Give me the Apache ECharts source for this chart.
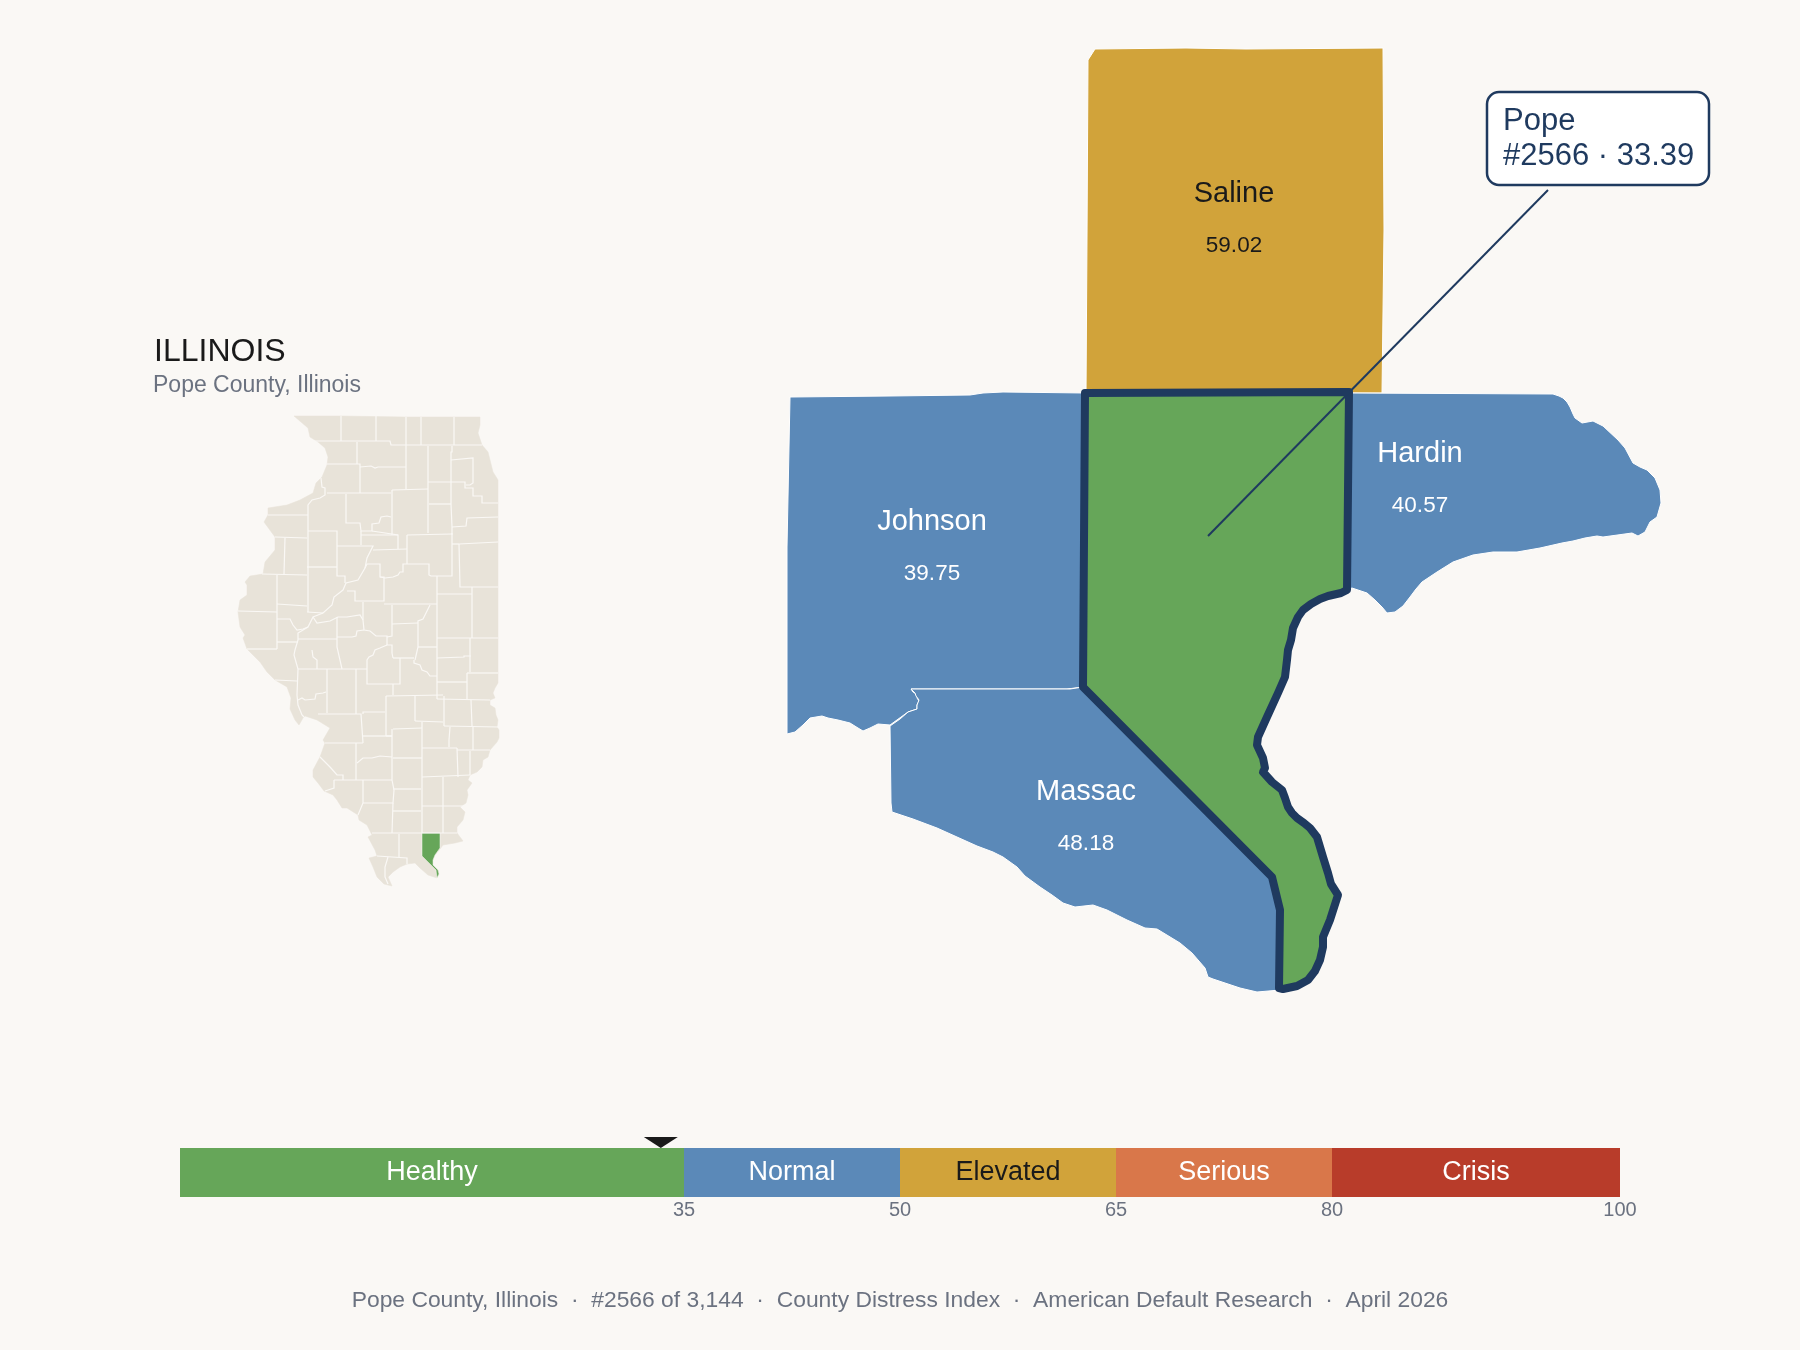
<!DOCTYPE html>
<html>

<head>
    <meta charset="utf-8" />
    <title>Pope County, Illinois</title>
    <script src="https://cdn.jsdelivr.net/npm/echarts@6/dist/echarts.min.js"></script>
    <style>
        html, body { margin: 0; padding: 0; background: #faf8f5; }
    </style>
</head>

<body>
    <div id="main" style="width: 1800px;height: 1350px;"></div>
    <script type="text/javascript">
        // distress index bands
        var bandNames = ['Healthy', 'Normal', 'Elevated', 'Serious', 'Crisis'];
        var bandSizes = [35, 15, 15, 15, 20];
        var bandTicks = [35, 50, 65, 80, 100];
        var bandColors = ['#66a659', '#5b89b8', '#d1a33a', '#d9774a', '#b83c2a'];
        var bandTextColors = ['#ffffff', '#ffffff', '#1a1a1a', '#ffffff', '#ffffff'];

        // the county and its neighbours
        var neighbourNames = ['Saline', 'Johnson', 'Hardin', 'Massac'];
        var neighbourScores = [59.02, 39.75, 40.57, 48.18];
        var focusName = 'Pope';
        var focusScore = 33.39;
        var focusRank = 2566;

        // outlines, [x, y] with y growing southward
        var salineOutline = [[1095,49],[1186,48],[1246,49],[1383,48],[1384,230],[1382,393],[1086,393],[1087,237],[1088,60]];
        var johnsonOutline = [[790,397],[890,396],[970,395],[983,393],[1003,392],[1085,393],[1083,687],[1067,689],[911,689],[913,692],[918,695],[917,698],[919,701],[917,705],[917,709],[908,712],[890,725],[878,724],[870,728],[863,731],[858,728],[850,723],[838,720],[828,718],[822,716],[810,718],[806,722],[803,725],[795,732],[787,734],[787,547]];
        var hardinOutline = [[1349,393],[1553,394],[1559,396],[1563,398],[1567,402],[1570,407],[1573,414],[1575,418],[1582,423],[1593,421],[1603,426],[1618,440],[1625,448],[1633,463],[1640,467],[1647,470],[1655,478],[1660,490],[1661,503],[1657,517],[1650,522],[1645,532],[1638,536],[1632,533],[1603,537],[1597,536],[1585,538],[1573,541],[1562,543],[1540,548],[1517,552],[1493,552],[1473,555],[1453,562],[1437,572],[1422,582],[1416,589],[1410,597],[1403,606],[1395,612],[1387,613],[1382,607],[1375,600],[1367,593],[1352,588],[1347,590]];
        var massacOutline = [[911,689],[1070,689],[1083,687],[1272,877],[1280,910],[1280,990],[1257,992],[1240,988],[1213,979],[1208,977],[1205,968],[1192,953],[1180,943],[1157,929],[1145,928],[1127,920],[1107,910],[1093,905],[1075,907],[1063,903],[1052,895],[1040,887],[1025,876],[1017,867],[1003,857],[993,852],[977,846],[957,837],[937,828],[913,819],[892,812],[891,803],[890,726],[900,719],[908,712],[917,709],[917,705],[919,700],[916,696],[915,693]];
        var popeOutline = [[1085,393],[1349,392],[1347,590],[1341,593],[1328,596],[1320,599],[1311,604],[1303,610],[1298,617],[1293,628],[1291,640],[1288,650],[1287,660],[1285,677],[1278,693],[1267,717],[1258,737],[1257,745],[1263,758],[1265,768],[1263,772],[1272,782],[1282,790],[1285,798],[1288,807],[1292,813],[1297,818],[1304,823],[1310,828],[1317,837],[1323,857],[1328,873],[1331,884],[1338,895],[1330,920],[1323,937],[1323,947],[1320,960],[1315,971],[1308,980],[1297,986],[1283,989],[1279,988],[1280,910],[1272,877],[1083,687]];

        // label anchors inside each neighbour
        var neighbourLabelAt = [[1234,220],[932,548],[1420,480],[1086,818]];

        // state outline and county borders for the inset
        var stateOutline = [[294,416],[341,416],[406,417],[480,417],[480,425],[478,433],[482,445],[488,452],[493,472],[498,480],[498,683],[495,688],[493,693],[495,698],[490,700],[490,705],[495,708],[496,715],[498,720],[497,727],[499,730],[499,738],[497,742],[490,750],[488,757],[483,760],[482,767],[477,772],[470,775],[468,780],[472,783],[467,790],[468,795],[466,803],[460,807],[465,812],[463,820],[457,827],[457,833],[463,841],[455,843],[443,845],[440,849],[435,855],[433,860],[433,865],[438,870],[439,874],[437,878],[428,875],[420,868],[415,863],[407,864],[400,867],[393,872],[388,877],[392,886],[384,884],[377,877],[373,867],[369,858],[377,856],[375,850],[368,837],[372,835],[367,825],[359,820],[358,815],[347,808],[342,808],[337,800],[333,795],[324,791],[318,783],[313,777],[313,770],[320,757],[325,743],[323,740],[330,728],[317,720],[305,716],[303,718],[299,725],[295,720],[290,709],[291,698],[287,687],[275,680],[267,672],[260,662],[247,649],[243,638],[245,635],[240,627],[238,612],[240,600],[247,595],[247,585],[245,582],[250,576],[263,574],[265,562],[275,550],[275,537],[264,522],[268,515],[268,508],[287,505],[300,500],[313,493],[316,483],[322,477],[327,465],[328,457],[325,448],[318,442],[310,437],[308,428]];
        var insetFocusOutline = [[422,833],[440,833],[440,848],[435,855],[433,860],[433,865],[438,870],[439,874],[437,878],[436,878],[436,870],[422,856]];
        var countyBorders = [
            [[341,416],[341,441]], [[376,416],[376,441]], [[406,417],[406,445]], [[421,417],[421,445]], [[454,417],[454,445]],
            [[313,441],[390,441],[391,445],[482,445]],
            [[357,442],[357,464]], [[327,464],[360,464],[360,493]],
            [[360,467],[371,466],[373,467],[375,468],[378,467],[406,467]],
            [[406,445],[406,489]], [[428,446],[428,533]],
            [[452,446],[452,452],[451,452],[451,504],[452,527],[452,535]],
            [[428,482],[465,482],[465,488],[473,488],[473,496],[482,496],[482,503],[498,503]],
            [[451,460],[473,458],[473,483],[470,485],[466,485]],
            [[429,504],[451,504]],
            [[452,527],[466,526],[467,518],[498,517]],
            [[327,493],[391,493]], [[392,490],[392,535]], [[392,490],[428,489]],
            [[321,478],[322,487],[325,488],[325,495],[320,498],[312,500],[308,505],[308,612]],
            [[268,515],[308,515]],
            [[346,494],[346,523],[360,523],[361,531],[372,531],[372,524],[379,523],[381,517],[387,516],[391,517]],
            [[308,531],[337,531],[337,576],[345,576],[345,583]],
            [[361,531],[361,545]], [[372,531],[398,535],[398,549]],
            [[337,546],[373,546],[367,558],[365,568],[358,580],[346,583],[343,590],[334,597],[332,605],[323,613],[313,617],[308,627],[298,633],[298,640],[295,650],[294,655],[298,669],[297,695],[298,705],[302,715],[304,717]],
            [[275,537],[307,538]], [[285,538],[284,574]], [[307,567],[337,567]], [[262,574],[307,575]],
            [[277,575],[277,649]], [[277,604],[307,606]], [[238,611],[277,612]],
            [[277,619],[290,619],[293,625],[297,630],[303,629],[308,627]],
            [[277,642],[298,642]], [[247,649],[277,649]], [[307,612],[323,613]],
            [[347,591],[355,591],[355,601],[384,601],[384,577],[380,577],[380,564],[367,564],[365,568]],
            [[380,577],[385,578],[393,577],[398,575],[400,572],[403,572],[403,564],[429,564],[429,575],[431,576],[452,576],[452,533]],
            [[407,535],[452,534]], [[407,535],[407,564]], [[407,549],[373,550]],
            [[361,535],[398,535]],
            [[437,576],[437,699]], [[437,594],[472,594]], [[459,544],[460,587],[498,587]], [[459,544],[498,542]], [[452,544],[459,544]],
            [[472,587],[472,638]],
            [[384,604],[437,604]], [[363,602],[363,620],[364,630],[370,631],[376,636],[387,636],[387,645],[392,645],[392,653],[393,658]],
            [[392,605],[392,636],[387,637]], [[392,624],[418,623]], [[430,605],[423,619],[418,621],[418,647],[415,660]],
            [[313,617],[317,623],[330,621],[338,617],[347,617],[360,615],[363,620]],
            [[337,617],[337,647],[342,669]], [[298,639],[337,639]], [[337,637],[352,637],[356,636],[357,631],[364,630]],
            [[437,638],[498,638]], [[418,647],[437,647]], [[470,638],[470,672]], [[437,658],[464,657],[464,656],[471,656]],
            [[387,645],[380,648],[375,650],[373,655],[369,657],[367,660],[367,684],[400,684],[400,658]],
            [[312,650],[313,657],[317,660],[317,669]], [[298,669],[367,669]],
            [[327,669],[327,713]], [[356,669],[356,714]],
            [[275,680],[297,681]],
            [[298,700],[302,698],[305,700],[315,699],[316,694],[323,693],[326,692]],
            [[318,714],[361,714],[363,743]], [[325,743],[363,743]],
            [[363,714],[363,712],[385,712]], [[386,696],[386,736]], [[363,736],[392,736]],
            [[393,684],[393,695]], [[386,696],[443,695]], [[393,658],[414,658]],
            [[414,660],[414,663],[420,665],[422,670],[427,672],[430,676],[437,676]],
            [[437,682],[467,682]], [[437,699],[490,700]], [[467,673],[498,673]], [[467,673],[467,699]],
            [[415,696],[415,721]], [[415,721],[443,722]], [[444,696],[444,726]], [[444,726],[499,727]], [[471,700],[472,726]],
            [[422,722],[422,833]], [[393,729],[422,728]], [[392,729],[392,780]], [[386,736],[392,736]],
            [[422,748],[457,748]], [[457,748],[458,777]], [[450,727],[449,740],[449,747]], [[473,727],[473,750]], [[457,750],[490,750]], [[470,751],[470,775]],
            [[393,758],[422,758]],
            [[356,743],[356,780]], [[357,763],[363,758],[372,758],[380,756],[392,757]],
            [[320,757],[330,767],[337,775],[343,775],[343,780]],
            [[334,780],[334,788],[325,791]], [[334,780],[392,780]], [[363,780],[363,803],[358,815]],
            [[363,803],[393,803],[394,790],[392,780]], [[393,789],[421,789]], [[393,803],[392,833]], [[393,811],[421,811]],
            [[422,777],[470,775]], [[443,777],[443,833]], [[422,806],[466,806]],
            [[372,833],[457,833]], [[399,834],[399,857]], [[377,856],[407,858],[407,864]], [[388,857],[385,867],[385,877],[388,884]]
        ];

        // callout leader: centre of the county to the foot of the box
        var leaderFrom = [1208, 536];
        var leaderTo = [1548, 190];

        var bg = '#faf8f5';
        var navy = '#1f3a5f';
        var grey = '#6b7280';
        var ink = '#1a1a1a';
        var fontName = '"Liberation Sans", Arial, sans-serif';

        function toGeo(pt) {
            return [pt[0], -pt[1]];
        }

        function feature(name, ring, cp) {
            var coords = ring.map(toGeo);
            coords.push(coords[0]);
            return {
                type: 'Feature',
                properties: cp ? { name: name, cp: toGeo(cp) } : { name: name },
                geometry: { type: 'Polygon', coordinates: [coords] }
            };
        }

        function bandIndex(score) {
            for (var i = 0; i < bandTicks.length; i++) {
                if (score < bandTicks[i]) return i;
            }
            return bandTicks.length - 1;
        }

        var neighbourOutlines = [salineOutline, johnsonOutline, hardinOutline, massacOutline];

        echarts.registerMap('area', {
            type: 'FeatureCollection',
            features: neighbourNames.map(function (name, i) {
                return feature(name, neighbourOutlines[i], neighbourLabelAt[i]);
            }).concat([feature(focusName, popeOutline)])
        });
        echarts.registerMap('state', {
            type: 'FeatureCollection',
            features: [feature('Illinois', stateOutline), feature(focusName, insetFocusOutline)]
        });

        var myChart = echarts.init(document.getElementById('main'), null, { renderer: 'canvas' });

        var areaRegions = neighbourNames.map(function (name, i) {
            var idx = bandIndex(neighbourScores[i]);
            return {
                name: name,
                itemStyle: { areaColor: bandColors[idx], borderColor: '#ffffff', borderWidth: 1 },
                label: {
                    show: true,
                    formatter: '{n|' + name + '}\n{v|' + neighbourScores[i].toFixed(2) + '}',
                    rich: {
                        n: { fontSize: 29, lineHeight: 52, color: bandTextColors[idx], fontFamily: fontName },
                        v: { fontSize: 22.5, lineHeight: 52, color: bandTextColors[idx], fontFamily: fontName }
                    }
                }
            };
        });
        areaRegions.push({
            name: focusName,
            itemStyle: { areaColor: bandColors[bandIndex(focusScore)], borderColor: navy, borderWidth: 8, borderJoin: 'round' },
            label: { show: false }
        });

        var barSeries = bandNames.map(function (name, i) {
            return {
                type: 'bar',
                name: name,
                stack: 'scale',
                data: [bandSizes[i]],
                barWidth: '100%',
                silent: true,
                itemStyle: { color: bandColors[i] },
                label: {
                    show: true,
                    position: 'inside',
                    formatter: name,
                    fontSize: 27,
                    fontFamily: fontName,
                    color: bandTextColors[i]
                }
            };
        });

        var option = {
            animation: false,
            backgroundColor: bg,
            title: [
                { text: 'ILLINOIS', left: 154, top: 336, padding: 0, textStyle: { fontSize: 32, fontWeight: 'normal', color: ink, fontFamily: fontName } },
                { text: 'Pope County, Illinois', left: 153, top: 374, padding: 0, textStyle: { fontSize: 23, fontWeight: 'normal', color: grey, fontFamily: fontName } },
                {
                    text: 'Pope County, Illinois  \u00b7  #2566 of 3,144  \u00b7  County Distress Index  \u00b7  American Default Research  \u00b7  April 2026',
                    left: 'center', top: 1289, padding: 0,
                    textStyle: { fontSize: 22.85, fontWeight: 'normal', color: grey, fontFamily: fontName }
                }
            ],
            geo: [
                {
                    map: 'area', roam: false, silent: true, aspectScale: 1,
                    boundingCoords: [[780, -40], [1670, -1000]],
                    left: 780, top: 40, width: 890, height: 960,
                    regions: areaRegions
                },
                {
                    map: 'state', roam: false, silent: true, aspectScale: 1,
                    boundingCoords: [[230, -410], [510, -890]],
                    left: 230, top: 410, width: 280, height: 480,
                    itemStyle: { areaColor: '#e8e3d9', borderColor: '#e8e3d9', borderWidth: 0.5 },
                    regions: [{ name: focusName, itemStyle: { areaColor: bandColors[bandIndex(focusScore)], borderColor: bg, borderWidth: 0.5 } }]
                }
            ],
            grid: { left: 180, top: 1148, width: 1440, height: 49, containLabel: false },
            xAxis: {
                type: 'value', min: 0, max: 100,
                axisLine: { show: false }, axisTick: { show: false }, splitLine: { show: false },
                axisLabel: { customValues: bandTicks, margin: 3, fontSize: 20, color: grey, fontFamily: fontName, showMinLabel: true, showMaxLabel: true, hideOverlap: false }
            },
            yAxis: { type: 'category', data: ['score'], show: false },
            series: barSeries.concat([
                {
                    type: 'scatter',
                    data: [[focusScore, 'score']],
                    symbol: 'path://M0 0L34 0L17 11Z',
                    symbolSize: [34, 11],
                    symbolOffset: [0, -30],
                    silent: true,
                    z: 5,
                    itemStyle: { color: ink, opacity: 1 }
                },
                {
                    type: 'lines',
                    coordinateSystem: 'geo',
                    geoIndex: 1,
                    polyline: true,
                    silent: true,
                    data: countyBorders.map(function (line) {
                        return { coords: line.map(toGeo) };
                    }),
                    lineStyle: { color: bg, width: 1.2, opacity: 1 }
                },
                {
                    type: 'lines',
                    coordinateSystem: 'geo',
                    geoIndex: 0,
                    silent: true,
                    data: [{ coords: [toGeo(leaderFrom), toGeo(leaderTo)] }],
                    lineStyle: { color: navy, width: 2, opacity: 1, curveness: 0 },
                    z: 6
                }
            ]),
            graphic: [
                {
                    type: 'rect',
                    shape: { x: 1487, y: 92, width: 222, height: 93, r: 12 },
                    style: { fill: '#ffffff', stroke: navy, lineWidth: 2.5 },
                    silent: true,
                    z: 10
                },
                {
                    type: 'text',
                    x: 1503, y: 104,
                    style: {
                        text: focusName + '\n#' + focusRank + ' \u00b7 ' + focusScore.toFixed(2),
                        fill: navy,
                        font: '31px ' + fontName,
                        lineHeight: 35
                    },
                    silent: true,
                    z: 11
                }
            ]
        };

        myChart.setOption(option);
    </script>
</body>

</html>
